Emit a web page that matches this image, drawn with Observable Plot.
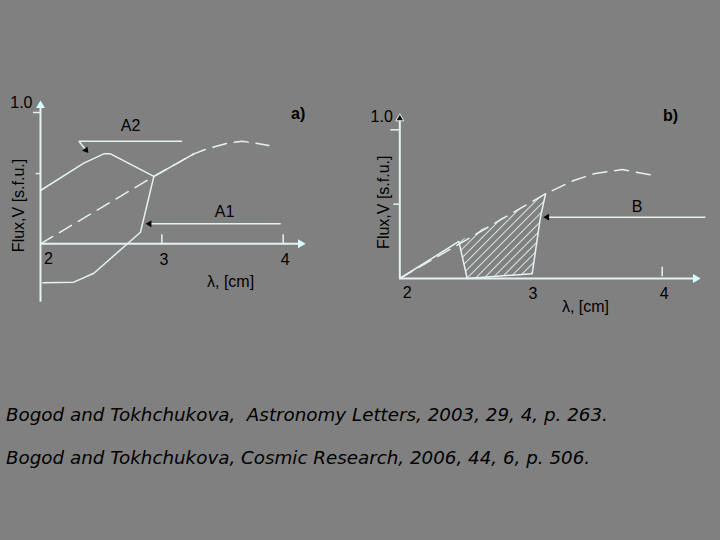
<!DOCTYPE html>
<html><head><meta charset="utf-8">
<script src="https://cdn.jsdelivr.net/npm/d3@7"></script>
<script src="https://cdn.jsdelivr.net/npm/@observablehq/plot@0.6"></script>
<style>
html,body{margin:0;padding:0;background:#808080;}
#page{position:relative;width:720px;height:540px;background:#808080;overflow:hidden;}
.panel{position:absolute;}
.cite{position:absolute;left:6px;font-family:"DejaVu Sans",sans-serif;font-style:italic;font-size:18.3px;line-height:1;color:#000;white-space:pre;}
</style></head><body>
<div id="page">
  <div id="pa" class="panel" style="left:0;top:80px"></div>
  <div id="pb" class="panel" style="left:360px;top:95px"></div>
  <div class="cite" id="c1" style="top:405.5px"></div>
  <div class="cite" id="c2" style="top:448.5px"></div>
</div>
<script>
// ---------- data ----------
// panel a)
const quietA_x = [2, 2.934, 3.264, 3.374, 3.539, 3.663, 3.773, 3.882];
const quietA_y = [0, 0.513, 0.685, 0.724, 0.766, 0.781, 0.766, 0.749];
const a2_x = [2, 2.357, 2.522, 2.577, 2.934];
const a2_y = [0.406, 0.614, 0.685, 0.685, 0.513];
const a1_x = [2.02, 2.275, 2.44, 2.824, 2.934, 3.264];
const a1_y = [-0.297, -0.292, -0.224, 0.088, 0.513, 0.685];
const aMidTick = 0.535;
// panel b)
const quietB_x = [2, 3.111, 3.326, 3.479, 3.695, 3.911];
const quietB_y = [0, 0.57, 0.659, 0.704, 0.733, 0.697];
const b_x = [2, 2.45, 2.514, 3.009, 3.072, 3.111];
const b_y = [0, 0.249, 0, 0.032, 0.412, 0.57];
const bMidTick = 0.5;
// ticks & labels
const xTickValues = [2, 3, 4];
const xTickLabels = ["2", "3", "4"];
const yTopLabel = "1.0";
const yLabel = "Flux,V [s.f.u.]";
const xLabel = "λ, [cm]";
const panelLabels = ["a)", "b)"];
const seriesLabels = ["A2", "A1", "B"];
const citations = [
  "Bogod and Tokhchukova,  Astronomy Letters, 2003, 29, 4, p. 263.",
  "Bogod and Tokhchukova, Cosmic Research, 2006, 44, 6, p. 506."
];

// ---------- helpers ----------
const pts = (xs, ys) => xs.map((x, i) => ({x, y: ys[i]}));
const LC = "#e4f2f2";
const one = [0];
const style = {background: "transparent", overflow: "visible", fontFamily: "'Liberation Sans', Arial, sans-serif", fontSize: "16px", color: "#000"};
const tri = (x, y, rotate, fill, r = 2.5, stroke = "none") =>
  Plot.dot(one, {x, y, symbol: "triangle", r, rotate, fill, stroke, strokeWidth: 1});
const seg = (x1, y1, x2, y2, w = 1.5) =>
  Plot.link(one, {x1, y1, x2, y2, stroke: LC, strokeWidth: w});
const txt = (s, x, y, o = {}) => Plot.text([s], {x, y, text: d => d, fill: "#000", ...o});

// ---------- panel a ----------
const plotA = Plot.plot({
  width: 330, height: 240,
  x: {domain: [2, 4], range: [40, 282.7], axis: null},
  y: {domain: [0, 1], range: [163.3, 32], axis: null},
  style,
  marks: [
    // axes
    Plot.ruleX([2], {y1: -0.445, y2: 1.053, stroke: LC, strokeWidth: 2}),
    Plot.ruleY([0], {x1: 2, x2: 4.143, stroke: LC, strokeWidth: 2}),
    Plot.ruleX(xTickValues.slice(1), {y1: 0, y2: 0.069, stroke: LC, strokeWidth: 1.5}),
    Plot.ruleY([1], {x1: 1.942, x2: 2, stroke: LC, strokeWidth: 1.5}),
    Plot.ruleY([aMidTick], {x1: 1.965, x2: 2, stroke: LC, strokeWidth: 1.5}),
    tri(4.143, 0, 90, "#d8ffff", 3.3),
    tri(2, 1.053, 0, "#d8ffff", 3.3),
    // curves
    Plot.line(pts(quietA_x, quietA_y), {x: "x", y: "y", stroke: LC, strokeWidth: 1.5, strokeDasharray: "14,8"}),
    Plot.line(pts(a2_x, a2_y), {x: "x", y: "y", stroke: LC, strokeWidth: 1.5}),
    Plot.line(pts(a1_x, a1_y), {x: "x", y: "y", stroke: LC, strokeWidth: 1.5}),
    // pointers
    seg(2.316, 0.781, 3.168, 0.781),
    seg(2.316, 0.781, 2.375, 0.714),
    tri(2.375, 0.714, 140.6, "#000"),
    seg(2.898, 0.152, 3.98, 0.152),
    tri(2.898, 0.152, -90, "#000"),
    // texts
    txt(yTopLabel, 2, 1, {textAnchor: "end", dx: -8, dy: -10}),
    txt(xTickLabels[0], xTickValues[0], 0, {dx: 8, dy: 15, fontSize: 16}),
    Plot.text(xTickValues.slice(1), {x: d => d, y: 0, text: (d, i) => xTickLabels[i + 1], dx: 2, dy: 16, fontSize: 16, fill: "#000"}),
    txt(xLabel, 3.566, -0.292),
    txt(yLabel, 1.819, 0.292, {rotate: -90}),
    txt(panelLabels[0], 4.123, 0.99, {fontWeight: "bold"}),
    txt(seriesLabels[0], 2.742, 0.901),
    txt(seriesLabels[1], 3.517, 0.246)
  ]
});
document.getElementById("pa").append(plotA);

// ---------- panel b ----------
const plotB = Plot.plot({
  width: 360, height: 230,
  x: {domain: [2, 4], range: [39.3, 301.7], axis: null},
  y: {domain: [0, 1], range: [183, 34.3], axis: null},
  style,
  marks: [
    // hatched region
    Plot.line(pts(b_x.slice(1), b_y.slice(1)), {x: "x", y: "y", fill: "url(#hatchB)", stroke: "none"}),
    // axes
    Plot.ruleX([2], {y1: 0, y2: 1.076, stroke: LC, strokeWidth: 2}),
    Plot.ruleY([0], {x1: 2, x2: 4.254, stroke: LC, strokeWidth: 2}),
    Plot.ruleX(xTickValues.slice(2), {y1: 0.012, y2: 0.076, stroke: LC, strokeWidth: 1.5}),
    Plot.ruleY([1], {x1: 1.932, x2: 2, stroke: LC, strokeWidth: 1.5}),
    Plot.ruleY([bMidTick], {x1: 1.955, x2: 2, stroke: LC, strokeWidth: 1.5}),
    tri(4.254, 0, 90, "#d8ffff", 3.3),
    tri(2, 1.076, 0, "#111", 3.0, LC),
    // curves
    Plot.line(pts(quietB_x, quietB_y), {x: "x", y: "y", stroke: LC, strokeWidth: 1.5, strokeDasharray: "14,8"}),
    Plot.line(pts(b_x, b_y), {x: "x", y: "y", stroke: LC, strokeWidth: 1.5}),
    // pointer
    seg(3.123, 0.412, 4.329, 0.412),
    tri(3.123, 0.412, -90, "#000"),
    // texts
    txt(yTopLabel, 2, 1, {textAnchor: "end", dx: -7, dy: -12.6}),
    txt(xTickLabels[0], xTickValues[0], 0, {dx: 7.4, dy: 14, fontSize: 16}),
    Plot.text(xTickValues.slice(1), {x: d => d, y: 0, text: (d, i) => xTickLabels[i + 1], dx: 2, dy: 15, fontSize: 16, fill: "#000"}),
    txt(xLabel, 3.415, -0.193),
    txt(yLabel, 1.878, 0.513, {rotate: -90}),
    txt(panelLabels[1], 4.063, 1.096, {fontWeight: "bold"}),
    txt(seriesLabels[2], 3.809, 0.479)
  ]
});
const ns = "http://www.w3.org/2000/svg";
const defs = document.createElementNS(ns, "defs");
defs.innerHTML = `<pattern id="hatchB" patternUnits="userSpaceOnUse" width="6" height="6" patternTransform="rotate(45)"><line x1="0" y1="-1" x2="0" y2="7" stroke="${LC}" stroke-width="1.8"/></pattern>`;
plotB.prepend(defs);
document.getElementById("pb").append(plotB);

// ---------- citations ----------
document.getElementById("c1").textContent = citations[0];
document.getElementById("c2").textContent = citations[1];
</script>
</body></html>
